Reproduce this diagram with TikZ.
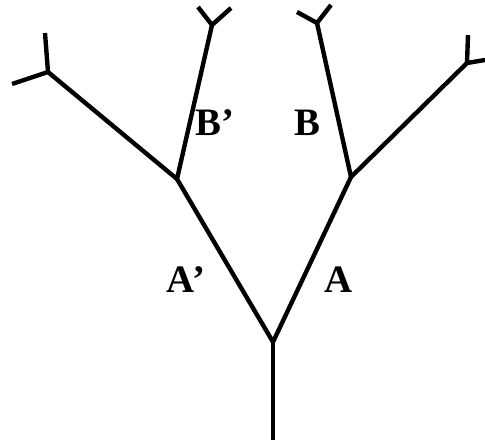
\documentclass[tikz,border=0pt]{standalone}
\usepackage{fontspec}
\setmainfont{Liberation Serif}
\begin{document}
\begin{tikzpicture}[x=1bp,y=-1bp,
  branch/.style={line width=4.4bp,black,line join=round},
  lbl/.style={font=\bfseries\fontsize{39}{39}\selectfont,inner sep=0pt}]
\useasboundingbox (0,0) rectangle (485,443);
% junctions
\coordinate (root) at (273,440);
\coordinate (j0) at (273,342);
\coordinate (jl) at (177,179);
\coordinate (jr) at (351,177);
\coordinate (tll) at (48,72);
\coordinate (tlu) at (212,25);
\coordinate (tru) at (317,23);
\coordinate (trr) at (467,63);
% tip ends
\coordinate (e1) at (45,33);
\coordinate (e2) at (12,84);
\coordinate (e3) at (198,7);
\coordinate (e4) at (231,8);
\coordinate (e5) at (297,12);
\coordinate (e6) at (331,5);
\coordinate (e7) at (468,35);
\coordinate (e8) at (485,60);
% trunk and branches
\draw[branch] (root) -- (j0);
\draw[branch] (jl) -- (j0) -- (jr);
\draw[branch] (tll) -- (jl) -- (tlu);
\draw[branch] (tru) -- (jr) -- (trr);
% forks
\draw[branch] (e1) -- (tll) -- (e2);
\draw[branch] (e3) -- (tlu) -- (e4);
\draw[branch] (e5) -- (tru) -- (e6);
\draw[branch] (e7) -- (trr) -- (e8);
% labels
\node[lbl] (la) at (339,280) {A};
\node[lbl] (lap) at (186,280) {A’};
\node[lbl] (lb) at (307,123) {B};
\node[lbl] (lbp) at (215,123) {B’};
\end{tikzpicture}
\end{document}
